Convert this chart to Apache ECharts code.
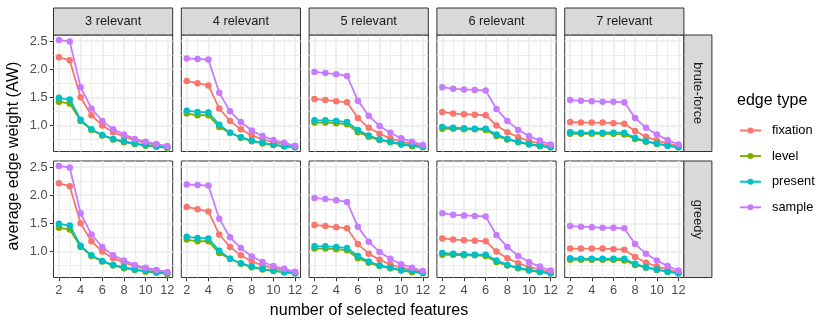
<!DOCTYPE html>
<html><head><meta charset="utf-8">
<script src="https://cdn.jsdelivr.net/npm/echarts@6/dist/echarts.min.js"></script>
<style>html,body{margin:0;padding:0;background:#fff}#c{width:830px;height:327px}</style>
</head><body><div id="c"></div>
<script>
const xValues = [2,3,4,5,6,7,8,9,10,11,12];
const colLabels = ['3 relevant','4 relevant','5 relevant','6 relevant','7 relevant'];
const rowLabels = ['brute-force','greedy'];
const edgeTypes = ['fixation','level','present','sample'];
const xMajor = [2,4,6,8,10,12];
const xMinor = [3,5,7,9,11];
const yMajor = [1.0,1.5,2.0,2.5];
const yMinor = [0.75,1.25,1.75,2.25];

// brute-force values, one list per column (3..7 relevant)
const bfFixation = [
  [2.21,2.16,1.50,1.18,1.00,0.88,0.80,0.74,0.69,0.66,0.63],
  [1.79,1.75,1.71,1.30,1.08,0.93,0.82,0.75,0.70,0.67,0.63],
  [1.47,1.45,1.43,1.41,1.13,0.96,0.85,0.77,0.71,0.67,0.63],
  [1.24,1.21,1.20,1.19,1.18,1.00,0.88,0.79,0.72,0.68,0.63],
  [1.06,1.05,1.05,1.05,1.04,1.03,0.90,0.80,0.73,0.68,0.63]];
const bfLevel = [
  [1.42,1.39,1.08,0.92,0.82,0.75,0.70,0.67,0.64,0.62,0.60],
  [1.21,1.18,1.18,0.97,0.87,0.78,0.72,0.68,0.65,0.63,0.61],
  [1.05,1.05,1.04,1.02,0.88,0.80,0.74,0.70,0.66,0.63,0.61],
  [0.94,0.94,0.93,0.93,0.92,0.81,0.75,0.70,0.66,0.63,0.61],
  [0.85,0.85,0.85,0.85,0.85,0.84,0.76,0.71,0.67,0.64,0.61]];
const bfPresent = [
  [1.49,1.46,1.10,0.93,0.83,0.76,0.72,0.68,0.65,0.63,0.61],
  [1.26,1.24,1.23,1.01,0.87,0.79,0.73,0.69,0.66,0.63,0.61],
  [1.09,1.09,1.08,1.06,0.92,0.82,0.75,0.71,0.67,0.65,0.62],
  [0.97,0.96,0.95,0.94,0.94,0.84,0.76,0.71,0.67,0.64,0.61],
  [0.88,0.87,0.87,0.87,0.87,0.87,0.78,0.72,0.68,0.64,0.61]];
const bfSample = [
  [2.52,2.49,1.68,1.30,1.08,0.93,0.84,0.76,0.71,0.67,0.63],
  [2.19,2.18,2.17,1.58,1.25,1.06,0.91,0.81,0.74,0.69,0.64],
  [1.95,1.93,1.91,1.88,1.44,1.17,0.99,0.87,0.77,0.71,0.65],
  [1.68,1.65,1.64,1.63,1.62,1.29,1.08,0.92,0.81,0.73,0.66],
  [1.45,1.44,1.43,1.42,1.42,1.41,1.13,0.96,0.84,0.74,0.66]];
// greedy values
const grFixation = [
  [2.21,2.16,1.50,1.18,1.00,0.88,0.80,0.74,0.69,0.66,0.63],
  [1.79,1.75,1.71,1.30,1.08,0.93,0.82,0.75,0.70,0.67,0.63],
  [1.47,1.45,1.43,1.41,1.13,0.96,0.85,0.77,0.71,0.67,0.63],
  [1.23,1.21,1.20,1.19,1.18,1.00,0.88,0.79,0.72,0.68,0.63],
  [1.05,1.05,1.05,1.05,1.04,1.03,0.90,0.80,0.73,0.68,0.63]];
const grLevel = [
  [1.42,1.39,1.08,0.92,0.82,0.75,0.70,0.67,0.64,0.62,0.60],
  [1.21,1.18,1.18,0.97,0.87,0.78,0.72,0.68,0.65,0.63,0.61],
  [1.05,1.05,1.04,1.02,0.88,0.80,0.74,0.70,0.66,0.63,0.61],
  [0.94,0.94,0.93,0.93,0.92,0.81,0.75,0.70,0.66,0.63,0.61],
  [0.85,0.85,0.85,0.85,0.85,0.84,0.76,0.71,0.67,0.64,0.61]];
const grPresent = [
  [1.49,1.46,1.10,0.93,0.83,0.76,0.72,0.68,0.65,0.63,0.61],
  [1.26,1.24,1.23,1.01,0.87,0.79,0.73,0.69,0.66,0.63,0.61],
  [1.09,1.09,1.08,1.06,0.92,0.82,0.75,0.71,0.67,0.65,0.62],
  [0.97,0.96,0.95,0.94,0.94,0.84,0.76,0.71,0.67,0.64,0.61],
  [0.88,0.87,0.87,0.87,0.87,0.87,0.78,0.72,0.68,0.64,0.61]];
const grSample = [
  [2.52,2.49,1.68,1.30,1.08,0.93,0.84,0.76,0.71,0.67,0.63],
  [2.19,2.18,2.17,1.58,1.25,1.06,0.91,0.81,0.74,0.69,0.64],
  [1.95,1.93,1.91,1.88,1.44,1.17,0.99,0.87,0.77,0.71,0.65],
  [1.68,1.65,1.64,1.63,1.62,1.29,1.08,0.92,0.81,0.73,0.66],
  [1.45,1.44,1.43,1.42,1.42,1.41,1.13,0.96,0.84,0.74,0.66]];

const rowData = [
  [bfFixation, bfLevel, bfPresent, bfSample],
  [grFixation, grLevel, grPresent, grSample]];
const colors = ['#F8766D','#7CAE00','#00BFC4','#C77CFF'];
const FONT = '"Liberation Sans", Arial, sans-serif';
const SMALL = 12.8, BIG = 16;

const panelLeft0 = 53.5, panelStep = 127.8, panelW = 119.2;
const rowTops = [35, 161], panelH = 116.5;
const xMin = 1.5, xMax = 12.5, yMin = 0.536, yMax = 2.607;

const grids = [], xAxes = [], yAxes = [], series = [], graphics = [];
for (let r = 0; r < 2; r++) {
  for (let c = 0; c < 5; c++) {
    const g = grids.length;
    const left = panelLeft0 + c * panelStep;
    grids.push({left: left, top: rowTops[r], width: panelW, height: panelH,
      show: true, borderColor: '#333333', borderWidth: 1, backgroundColor: '#fff'});
    const bottomRow = r === 1, leftCol = c === 0;
    xAxes.push({gridIndex: g, type: 'value', min: xMin, max: xMax, position: 'bottom',
      axisLine: {show: false},
      axisTick: {show: bottomRow, customValues: xMajor, length: 3.7, lineStyle: {color: '#333333', width: 1}},
      axisLabel: {show: bottomRow, customValues: xMajor, margin: 6, color: '#4D4D4D', fontSize: SMALL, fontFamily: FONT},
      splitLine: {show: true, lineStyle: {color: '#EBEBEB', width: 1.6}}});
    xAxes.push({gridIndex: g, type: 'value', min: xMin, max: xMax, position: 'bottom',
      axisLine: {show: false},
      axisTick: {show: false, customValues: xMinor},
      axisLabel: {show: false, customValues: xMinor},
      splitLine: {show: true, lineStyle: {color: '#EBEBEB', width: 0.9}}});
    yAxes.push({gridIndex: g, type: 'value', min: yMin, max: yMax, position: 'left',
      axisLine: {show: false},
      axisTick: {show: leftCol, customValues: yMajor, length: 3.7, lineStyle: {color: '#333333', width: 1}},
      axisLabel: {show: leftCol, customValues: yMajor, margin: 6, color: '#4D4D4D', fontSize: SMALL, fontFamily: FONT,
        formatter: v => Number(v).toFixed(1)},
      splitLine: {show: true, lineStyle: {color: '#EBEBEB', width: 1.6}}});
    yAxes.push({gridIndex: g, type: 'value', min: yMin, max: yMax, position: 'left',
      axisLine: {show: false},
      axisTick: {show: false, customValues: yMinor},
      axisLabel: {show: false, customValues: yMinor},
      splitLine: {show: true, lineStyle: {color: '#EBEBEB', width: 0.9}}});
    for (let t = 0; t < 4; t++) {
      const vals = rowData[r][t][c];
      series.push({name: edgeTypes[t], type: 'line', xAxisIndex: 2 * g, yAxisIndex: 2 * g,
        data: xValues.map((x, i) => [x, vals[i]]),
        symbol: 'circle', symbolSize: 6.5, showSymbol: true,
        itemStyle: {color: colors[t]}, lineStyle: {color: colors[t], width: 1.8},
        emphasis: {disabled: true}, silent: true, z: 2 + t});
    }
    if (r === 0) {
      graphics.push({type: 'rect', shape: {x: left, y: 8, width: panelW, height: 27},
        style: {fill: '#D9D9D9', stroke: '#333333', lineWidth: 1}, z: 10});
      graphics.push({type: 'text', x: left + panelW / 2, y: 21.5,
        style: {text: colLabels[c], fill: '#1A1A1A', fontSize: SMALL, fontFamily: FONT, align: 'center', verticalAlign: 'middle'}, z: 11});
    }
  }
  const sx = panelLeft0 + 4 * panelStep + panelW;
  graphics.push({type: 'rect', shape: {x: sx, y: rowTops[r], width: 28, height: panelH},
    style: {fill: '#D9D9D9', stroke: '#333333', lineWidth: 1}, z: 10});
  graphics.push({type: 'text', x: sx + 14, y: rowTops[r] + panelH / 2, rotation: -Math.PI / 2,
    style: {text: rowLabels[r], fill: '#1A1A1A', fontSize: SMALL, fontFamily: FONT, align: 'center', verticalAlign: 'middle'}, z: 11});
}
graphics.push({type: 'text', x: 14, y: 156, rotation: Math.PI / 2,
  style: {text: 'average edge weight (AW)', fill: '#000', fontSize: BIG, fontFamily: FONT, align: 'center', verticalAlign: 'middle'}});
graphics.push({type: 'text', x: 369, y: 311,
  style: {text: 'number of selected features', fill: '#000', fontSize: BIG, fontFamily: FONT, align: 'center', verticalAlign: 'middle'}});
graphics.push({type: 'text', x: 737, y: 101,
  style: {text: 'edge type', fill: '#000', fontSize: BIG, fontFamily: FONT, align: 'left', verticalAlign: 'middle'}});

const chart = echarts.init(document.getElementById('c'), null, {renderer: 'canvas'});
chart.setOption({
  animation: false,
  grid: grids, xAxis: xAxes, yAxis: yAxes, series: series, graphic: graphics,
  legend: {data: edgeTypes, orient: 'vertical', left: 739, top: 124, padding: 0,
    itemWidth: 21, itemHeight: 7.5, itemGap: 12.6, selectedMode: false,
    textStyle: {color: '#000', fontSize: SMALL, fontFamily: FONT, padding: [0, 0, 0, 6]}}
});
</script></body></html>
